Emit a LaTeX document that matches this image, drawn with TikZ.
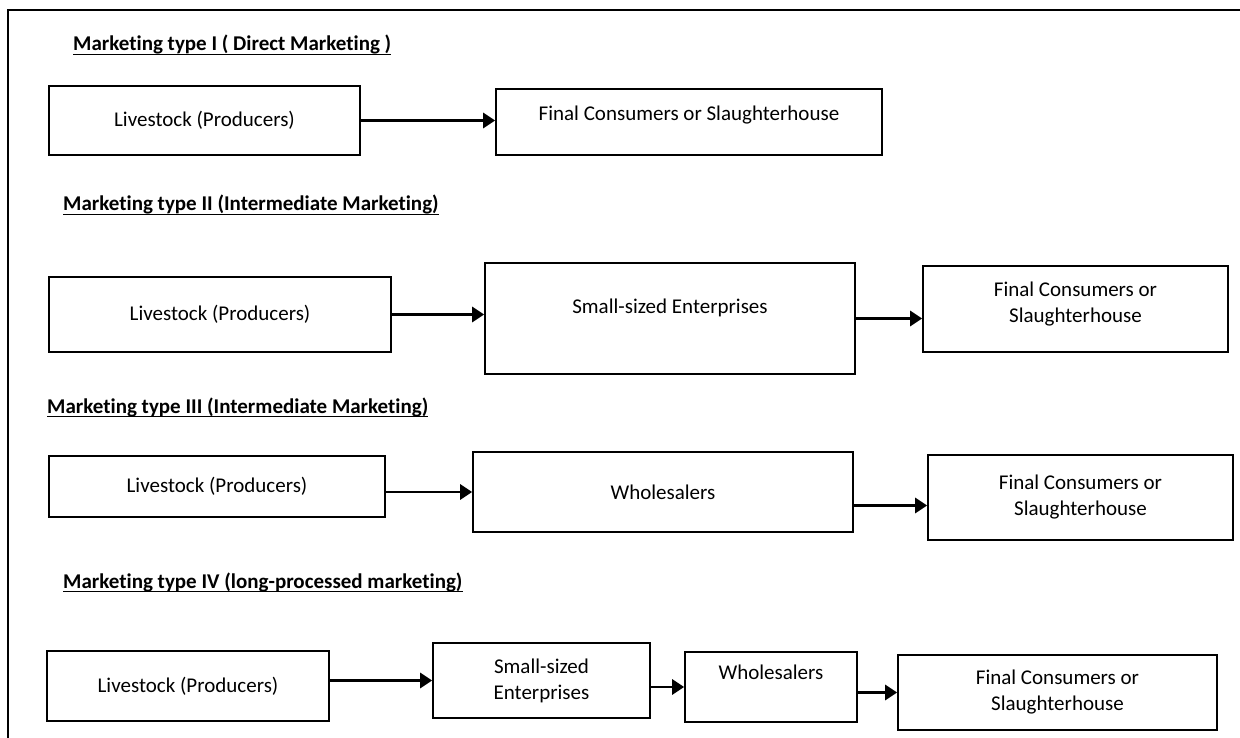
\documentclass[tikz,border=0pt]{standalone}
\usepackage{fontspec}
\setmainfont{Carlito}[Ligatures=NoCommon]
\usepackage{tikz}
\usetikzlibrary{arrows.meta, positioning, calc}

\begin{document}
\begin{tikzpicture}[x=1pt, y=-1pt,
    font=\fontsize{21}{26}\selectfont,
    box/.style={draw, line width=1.6pt, rectangle, inner sep=0pt, align=center},
    lbl/.style={align=center, inner sep=0pt},
    title/.style={anchor=base west, inner sep=0pt, font=\fontsize{21}{26}\selectfont\bfseries},
    arr/.style={-{Triangle[length=12pt, width=15pt]}, line width=2.6pt}]
\useasboundingbox (0,0) rectangle (1240,738);

% Outer frame (only left and top edges are on the page)
\draw[line width=2pt] (8,738) -- (8,10) -- (1240,10);

% Type I
\node[title] (t1) at (73,51) {Marketing type I ( Direct Marketing )};
\node[box, minimum width=311, minimum height=69] (r1a) at (204.5,120.5) {Livestock (Producers)};
\node[box, minimum width=386, minimum height=66] (r1b) at (689,122) {};
\node[lbl] (r1bt) at (689,115) {Final Consumers or Slaughterhouse};
\draw[arr] (r1a.east) -- (r1a.east -| r1b.west);

% Type II
\node[title] (t2) at (63,211) {Marketing type II (Intermediate Marketing)};
\node[box, minimum width=342, minimum height=75] (r2a) at (220,314.5) {Livestock (Producers)};
\node[box, minimum width=370, minimum height=111] (r2b) at (670,318.5) {};
\node[lbl] (r2bt) at (670,308) {Small-sized Enterprises};
\node[box, minimum width=305, minimum height=86] (r2c) at (1075.5,309) {};
\node[lbl] (r2ct) at (1075.5,304.5) {Final Consumers or\\Slaughterhouse};
\draw[arr] (r2a.east) -- (r2a.east -| r2b.west);
\draw[arr] (r2b.east) -- (r2b.east -| r2c.west);

% Type III
\node[title] (t3) at (47,413) {Marketing type III (Intermediate Marketing)};
\node[box, minimum width=336, minimum height=61] (r3a) at (217,486.5) {Livestock (Producers)};
\node[box, minimum width=380, minimum height=80] (r3b) at (663,492) {Wholesalers};
\node[box, minimum width=305, minimum height=85] (r3c) at (1080.5,497.5) {Final Consumers or\\Slaughterhouse};
\draw[arr] (r3b.west -| r3a.east) -- (r3b.west);
\draw[arr] ([yshift=-8pt]r3c.west -| r3b.east) -- ([yshift=-8pt]r3c.west);

% Type IV
\node[title] (t4) at (63,588) {Marketing type IV (long-processed marketing)};
\node[box, minimum width=282, minimum height=70] (r4a) at (188,686) {Livestock (Producers)};
\node[box, minimum width=217, minimum height=75] (r4b) at (541.5,680.5) {Small-sized\\Enterprises};
\node[box, minimum width=172, minimum height=70] (r4c) at (771,687) {};
\node[lbl] (r4ct) at (771,672) {Wholesalers};
\node[box, minimum width=319, minimum height=75] (r4d) at (1057.5,692.5) {Final Consumers or\\Slaughterhouse};
\draw[arr] (r4b.west -| r4a.east) -- (r4b.west);
\draw[arr] (r4c.west -| r4b.east) -- (r4c.west);
\draw[arr] (r4d.west -| r4c.east) -- (r4d.west);

% Underlined titles
\foreach \t in {t1,t2,t3,t4}
    \draw[line width=1.5pt] ([yshift=-3.5pt]\t.base west) -- ([yshift=-3.5pt]\t.base east);
\end{tikzpicture}
\end{document}
